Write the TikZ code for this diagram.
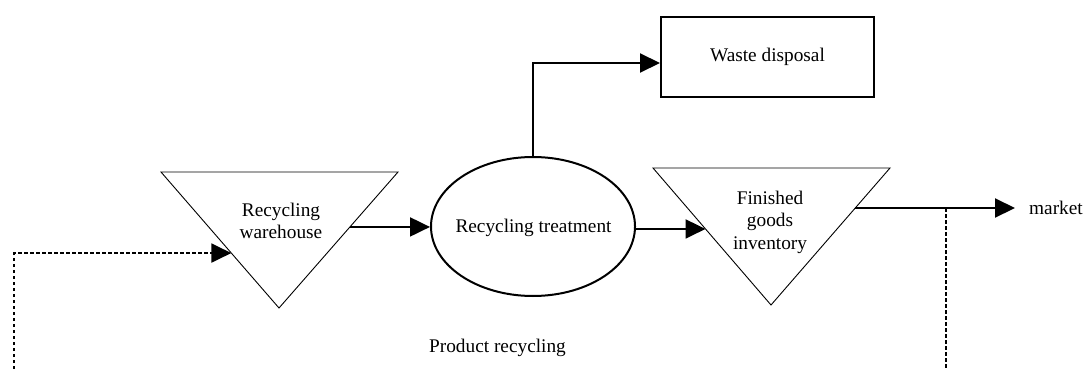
\documentclass[tikz,border=0pt]{standalone}
\usepackage{fontspec}
\setmainfont{Liberation Serif}
\usetikzlibrary{arrows.meta,calc,shapes.geometric}
\begin{document}
\begin{tikzpicture}[x=1pt,y=-1pt,
  lbl/.style={font=\fontsize{19.3}{22.5}\selectfont, inner sep=0pt, align=center},
  tip/.style={-{Triangle[length=20pt,width=19pt]}},
  flow/.style={line width=2pt, tip},
  ret/.style={line width=2pt, dash pattern=on 3.5pt off 2.5pt},
  store/.style={line width=0.9pt, line join=miter},
  proc/.style={lbl, draw, line width=2pt}]
\useasboundingbox (0,0) rectangle (1083,369);

% inventory points (inverted triangles)
\coordinate (rwL) at (161,172);
\coordinate (rwR) at (398,172);
\coordinate (rwB) at (279,308);
\draw[store] (rwL) -- (rwR) -- (rwB) -- cycle;
\node[lbl] (rw) at (281,221) {Recycling\\warehouse};

\coordinate (fgL) at (653,168);
\coordinate (fgR) at (890,168);
\coordinate (fgB) at (771,305);
\draw[store] (fgL) -- (fgR) -- (fgB) -- cycle;
\node[lbl] (fg) at (770,222) {Finished\\goods\\inventory};

% processing steps
\node[proc, ellipse, minimum width=204pt, minimum height=139pt] (rt) at (533,226.5) {};
\node[lbl, anchor=base] (rtl) at (533.5,232) {Recycling treatment};
\node[proc, minimum width=213pt, minimum height=80pt] (wd) at (767.5,57) {Waste disposal};

% free labels
\node[lbl, anchor=west] (mkt) at (1029,208) {market};
\node[lbl, anchor=base] (pr) at (497.5,352) {Product recycling};

% points where connectors meet the triangle sides
\coordinate (rwout) at ($(rwR)!0.404!(rwB)$);
\coordinate (rwin)  at ($(rwL)!0.596!(rwB)$);
\coordinate (fgin)  at ($(fgL)!0.445!(fgB)$);
\coordinate (fgout) at ($(fgR)!0.292!(fgB)$);
\coordinate (tap)   at (946,208);
\coordinate (dropR) at (946,369);
\coordinate (dropL) at (14,369);

% material flow
\draw[flow] (rwout) -- (rwout -| rt.west);
\draw[flow] (fgin -| rt.east) -- (fgin);
\draw[flow] (rt.north) |- ($(wd.west)+(0,6)$);
\draw[flow] (fgout) -- ($(fgout -| mkt.west)+(-14,0)$);

% product return loop
\draw[ret] (tap) -- (dropR);
\draw[ret, tip] (dropL) |- (rwin);
\end{tikzpicture}
\end{document}
